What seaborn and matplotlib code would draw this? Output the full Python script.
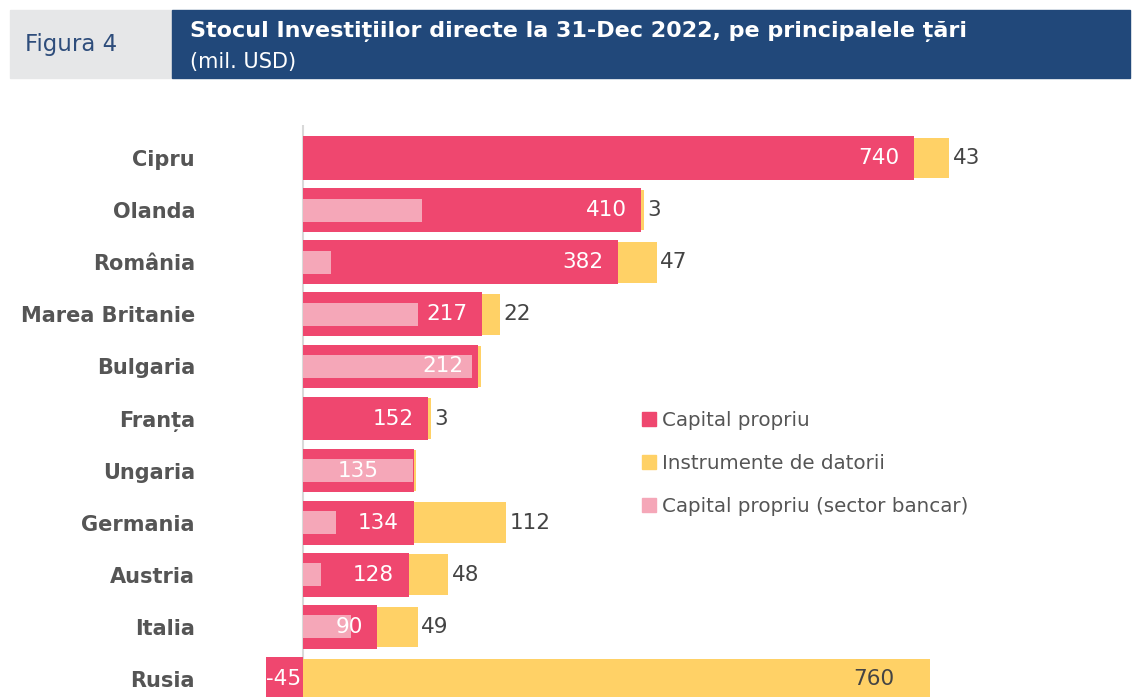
import matplotlib
matplotlib.use("Agg")
import matplotlib.pyplot as plt
import seaborn as sns
from matplotlib.patches import Rectangle, Patch

# data (mil. USD)
countries = ["Cipru", "Olanda", "România", "Marea Britanie", "Bulgaria", "Franța",
             "Ungaria", "Germania", "Austria", "Italia", "Rusia"]
equity = [740, 410, 382, 217, 212, 152, 135, 134, 128, 90, -45]
debt = [43, 3, 47, 22, 4, 3, 2, 112, 48, 49, 760]
bank = [0, 144, 34, 139, 205, 0, 133, 40, 22, 58, 0]
debt_labels = ["43", "3", "47", "22", "", "3", "", "112", "48", "49", "760"]

RED = "#EF476F"
YELLOW = "#FFD166"
PINK = "#F5A7B8"
TXT = "#555555"

W, H = 1132, 697

sns.set_theme(style="white")
plt.rcParams["font.family"] = ["DejaVu Sans"]

fig = plt.figure(figsize=(W / 100, H / 100), dpi=100)


def fx(x):
    return x / W


def fy(y):
    return 1 - y / H


# header
fig.patches.append(Rectangle((fx(10), fy(78)), fx(162), 68 / H, transform=fig.transFigure,
                             color="#E6E7E8", zorder=0))
fig.patches.append(Rectangle((fx(172), fy(78)), fx(958), 68 / H, transform=fig.transFigure,
                             color="#21487A", zorder=0))
fig.text(fx(25), fy(45), "Figura 4", fontsize=16.5, color="#2E4D7B", va="center", ha="left")
fig.text(fx(190), fy(31), "Stocul Investițiilor directe la 31-Dec 2022, pe principalele țări",
         fontsize=16, color="white", weight="bold", va="center", ha="left")
fig.text(fx(190), fy(62), "(mil. USD)", fontsize=15, color="white", va="center", ha="left")

# chart area: zero at x=303 px, 0.825 px per unit
ax = fig.add_axes([fx(200), 0, 1 - fx(200), fy(125)])

total = [max(e, 0) + d for e, d in zip(equity, debt)]
sns.barplot(x=total, y=countries, orient="h", color=YELLOW, saturation=1, width=0.78,
            linewidth=0, ax=ax)
sns.barplot(x=equity, y=countries, orient="h", color=RED, saturation=1, width=0.84,
            linewidth=0, ax=ax)
sns.barplot(x=bank, y=countries, orient="h", color=PINK, saturation=1, width=0.44,
            linewidth=0, ax=ax)

ax.axvline(0, color="#D9D9D9", lw=1.5, zorder=0)
ax.set_xlim(-(303 - 200) / 0.825, (W - 303) / 0.825)
ax.set_ylim(10.345, -0.633)
sns.despine(ax=ax, left=True, bottom=True)
ax.set_xticks([])
ax.set_xlabel("")
ax.set_ylabel("")
ax.tick_params(axis="y", length=0, pad=3.6)
for lab in ax.get_yticklabels():
    lab.set_fontweight("bold")
    lab.set_fontsize(15)
    lab.set_color(TXT)

# value labels
VFS = 15.5
for i, (e, d, dl) in enumerate(zip(equity, debt, debt_labels)):
    if e < 0:
        ax.annotate(str(e), (0, i), xytext=(-1.5, 0), textcoords="offset points",
                    ha="right", va="center", color="white", fontsize=VFS)
    elif countries[i] == "Ungaria":
        # label sits in the middle of the bar here
        ax.text(e / 2, i, str(e), ha="center", va="center", color="white", fontsize=VFS)
    else:
        ax.annotate(str(e), (e, i), xytext=(-10.5, 0), textcoords="offset points",
                    ha="right", va="center", color="white", fontsize=VFS)
    if not dl:
        continue
    end = max(e, 0) + d
    if e < 0:
        ax.annotate(dl, (end, i), xytext=(-26, 0), textcoords="offset points",
                    ha="right", va="center", color="#444444", fontsize=VFS)
    else:
        ax.annotate(dl, (end, i), xytext=(2.5, 0), textcoords="offset points",
                    ha="left", va="center", color="#444444", fontsize=VFS)

handles = [Patch(color=RED), Patch(color=YELLOW), Patch(color=PINK)]
names = ["Capital propriu", "Instrumente de datorii", "Capital propriu (sector bancar)"]
leg = fig.legend(handles, names, loc="upper left", bbox_to_anchor=(fx(632), fy(401)),
                 frameon=False, fontsize=14.3, labelcolor=TXT, handlelength=0.7,
                 handleheight=0.7, handletextpad=0.3, labelspacing=1.2, borderpad=0)

fig.savefig("out.png", dpi=100)
